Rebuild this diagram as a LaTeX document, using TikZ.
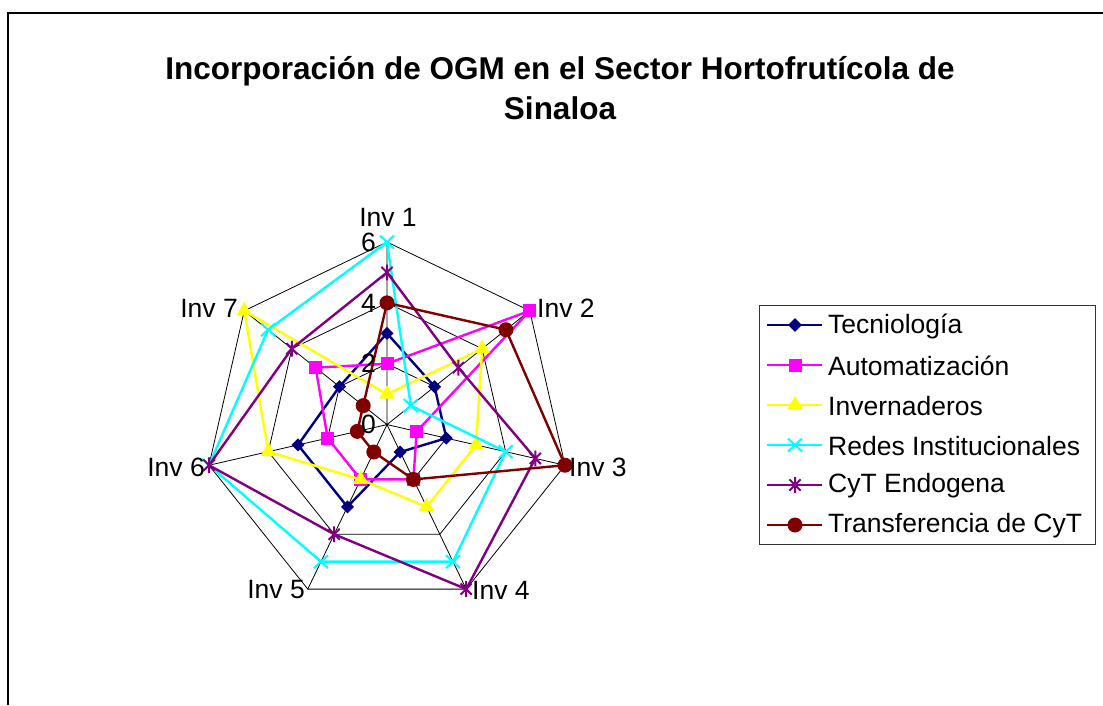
\documentclass[tikz,border=0pt]{standalone}
\usepackage{fontspec}
\setmainfont{Liberation Sans}
\usepackage{xcolor}
\usepackage{tikz}
\usetikzlibrary{shapes.geometric, shapes.misc}
\definecolor{tecblue}{RGB}{0,0,128}
\definecolor{automag}{RGB}{255,0,255}
\definecolor{invyel}{RGB}{255,255,0}
\definecolor{redcyan}{RGB}{0,255,255}
\definecolor{cytpurp}{RGB}{128,0,128}
\definecolor{transred}{RGB}{128,0,0}
\tikzstyle{grid} = [black, line width=0.8pt]
\tikzstyle{series} = [line width=2.4pt, line join=round]
\tikzstyle{tecmark} = [diamond, aspect=1, minimum size=14pt, inner sep=0pt, fill=tecblue]
\tikzstyle{automark} = [rectangle, minimum size=13pt, inner sep=0pt, fill=automag]
\tikzstyle{invmark} = [regular polygon, regular polygon sides=3, minimum size=18pt, inner sep=0pt, fill=invyel]
\tikzstyle{redmark} = [cross out, minimum width=12pt, minimum height=11pt, inner sep=0pt, draw=redcyan, line width=2pt]
\tikzstyle{cytmark} = [circle, minimum size=16pt, inner sep=0pt, path picture={\draw [cytpurp, line width=2pt] (path picture bounding box.north) -- (path picture bounding box.south) (path picture bounding box.north west) -- (path picture bounding box.south east) (path picture bounding box.north east) -- (path picture bounding box.south west);}]
\tikzstyle{transmark} = [circle, minimum size=15pt, inner sep=0pt, fill=transred]
\tikzstyle{label} = [font=\fontsize{26.5}{30}\selectfont, inner sep=0pt]
\tikzstyle{legtext} = [label, anchor=west]

\begin{document}
\begin{tikzpicture}[x=1pt, y=-1pt]
	\useasboundingbox (0,0) rectangle (1103,705);
	\fill [white] (0,0) rectangle (1103,705);
	\draw [line width=2pt] (8,705) -- (8,13) -- (1103,13);
	
	\node (title) [font=\bfseries\fontsize{31.5}{40}\selectfont, align=center] at (560,88) {Incorporación de OGM en el Sector Hortofrutícola de\\Sinaloa};
	
	\begin{scope}[shift={(387,424.6)}, x=30.43pt, y=30.43pt]
	% grid
	\draw [grid] (90:2) -- (38.571:2) -- (-12.857:2) -- (-64.286:2) -- (-115.714:2) -- (-167.143:2) -- (141.429:2) -- cycle;
	\draw [grid] (90:4) -- (38.571:4) -- (-12.857:4) -- (-64.286:4) -- (-115.714:4) -- (-167.143:4) -- (141.429:4) -- cycle;
	\draw [grid] (90:6) -- (38.571:6) -- (-12.857:6) -- (-64.286:6) -- (-115.714:6) -- (-167.143:6) -- (141.429:6) -- cycle;
	\draw [grid] (0,0) -- (90:6) (0,0) -- (38.571:6) (0,0) -- (-12.857:6) (0,0) -- (-64.286:6) (0,0) -- (-115.714:6) (0,0) -- (-167.143:6) (0,0) -- (141.429:6);
	
	% series
	\draw [series, tecblue] (90:3) node [tecmark] {} -- (38.571:2) node [tecmark] {} -- (-12.857:2) node [tecmark] {} -- (-64.286:1) node [tecmark] {} -- (-115.714:3) node [tecmark] {} -- (-167.143:3) node [tecmark] {} -- (141.429:2) node [tecmark] {} -- cycle;
	\draw [series, automag] (90:2) node [automark] {} -- (38.571:6) node [automark] {} -- (-12.857:1) node [automark] {} -- (-64.286:2) node [automark] {} -- (-115.714:2) node [automark] {} -- (-167.143:2) node [automark] {} -- (141.429:3) node [automark] {} -- cycle;
	\draw [series, invyel] (90:1) node [invmark] {} -- (38.571:4) node [invmark] {} -- (-12.857:3) node [invmark] {} -- (-64.286:3) node [invmark] {} -- (-115.714:2) node [invmark] {} -- (-167.143:4) node [invmark] {} -- (141.429:6) node [invmark] {} -- cycle;
	\draw [series, redcyan] (90:6) node [redmark] {} -- (38.571:1) node [redmark] {} -- (-12.857:4) node [redmark] {} -- (-64.286:5) node [redmark] {} -- (-115.714:5) node [redmark] {} -- (-167.143:6) node [redmark] {} -- (141.429:5) node [redmark] {} -- cycle;
	\draw [series, cytpurp] (90:5) node [cytmark] {} -- (38.571:3) node [cytmark] {} -- (-12.857:5) node [cytmark] {} -- (-64.286:6) node [cytmark] {} -- (-115.714:4) node [cytmark] {} -- (-167.143:6) node [cytmark] {} -- (141.429:4) node [cytmark] {} -- cycle;
	\draw [series, transred] (90:4) node [transmark] {} -- (38.571:5) node [transmark] {} -- (-12.857:6) node [transmark] {} -- (-64.286:2) node [transmark] {} -- (-115.714:1) node [transmark] {} -- (-167.143:1) node [transmark] {} -- (141.429:1) node [transmark] {} -- cycle;
	\end{scope}
	
	% scale
	\node (s0) [label, anchor=east] at (376,424.6) {0};
	\node (s2) [label, anchor=east] at (376,363.7) {2};
	\node (s4) [label, anchor=east] at (376,302.9) {4};
	\node (s6) [label, anchor=east] at (376,242) {6};
	
	% axes
	\node (inv1) [label] at (388,217) {Inv 1};
	\node (inv2) [label, anchor=west] at (537,308) {Inv 2};
	\node (inv3) [label, anchor=west] at (569,467) {Inv 3};
	\node (inv4) [label, anchor=west] at (472,590) {Inv 4};
	\node (inv5) [label, anchor=east] at (305,590) {Inv 5};
	\node (inv6) [label, anchor=east] at (205,467) {Inv 6};
	\node (inv7) [label, anchor=east] at (238,308) {Inv 7};
	
	% legend
	\draw [line width=0.8pt, black!80] (759,305) rectangle (1095,544);
	\draw [series, tecblue] (767,325) -- (822,325); \node [tecmark] at (795,325) {};
	\draw [series, automag] (767,365) -- (822,365); \node [automark] at (795,365) {};
	\draw [series, invyel] (767,405) -- (822,405); \node [invmark] at (795,405) {};
	\draw [series, redcyan] (767,445) -- (822,445); \node [redmark] at (795,445) {};
	\draw [series, cytpurp] (767,485) -- (822,485); \node [cytmark] at (795,485) {};
	\draw [series, transred] (767,525) -- (822,525); \node [transmark] at (795,525) {};
	\node (l1) [legtext] at (828,326) {Tecniología};
	\node (l2) [legtext] at (828,366) {Automatización};
	\node (l3) [legtext] at (828,406) {Invernaderos};
	\node (l4) [legtext] at (828,446) {Redes Institucionales};
	\node (l5) [legtext] at (828,486) {CyT Endogena};
	\node (l6) [legtext] at (828,526) {Transferencia de CyT};
	
\end{tikzpicture}
\end{document}
